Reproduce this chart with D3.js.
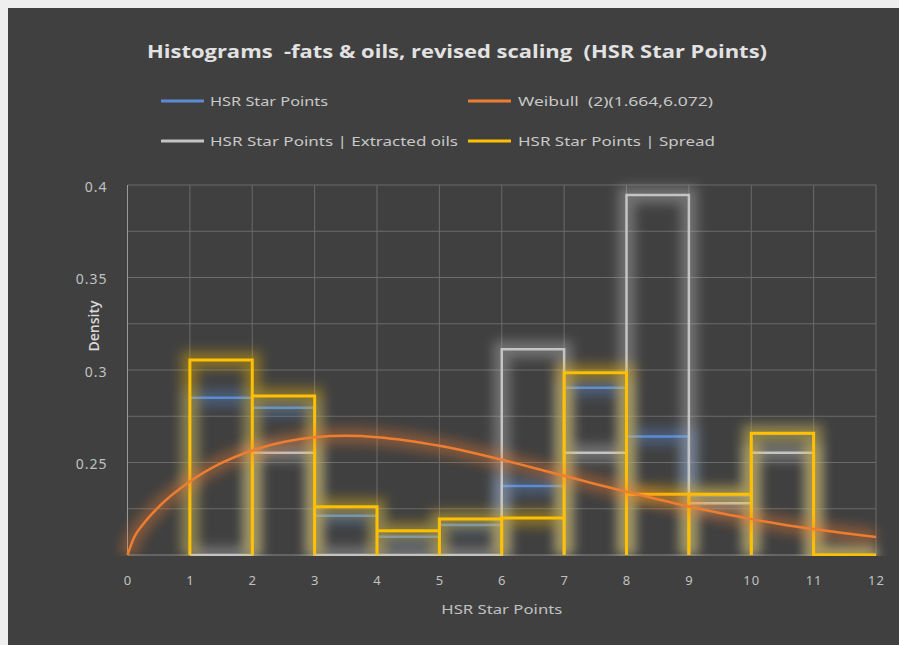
<!DOCTYPE html>
<html>
<head>
<meta charset="utf-8">
<script src="https://cdn.jsdelivr.net/npm/d3@7"></script>
<style>
  html, body { margin: 0; padding: 0; background: #eeeeee; }
  svg { display: block; }
  text { white-space: pre; }
</style>
</head>
<body>
<svg id="chart" width="899" height="645"></svg>
<script>
// Histogram bins: left edges of each one-point-wide bin
const binStarts = [1, 2, 3, 4, 5, 6, 7, 8, 9, 10, 11];

// Density per bin for each series
const allProducts   = [0.2850, 0.2796, 0.2212, 0.2099, 0.2162, 0.2373, 0.2904, 0.2640, 0.2322, 0.2655, 0];
const extractedOils = [0,      0.2553, 0,      0,      0,      0.3112, 0.2553, 0.3946, 0.2280, 0.2553, 0];
const spreads       = [0.3054, 0.2860, 0.2261, 0.2131, 0.2195, 0.2200, 0.2985, 0.2328, 0.2328, 0.2658, 0];

// Fitted Weibull (2) curve, sampled along the x axis
const weibullX = [0, 0.1, 0.25, 0.5, 1, 1.5, 2, 2.5, 3, 3.5, 4, 4.5, 5, 5.5, 6, 6.5, 7, 7.5, 8, 8.5, 9, 9.5, 10, 10.5, 11, 11.5, 12];
const weibullY = [0.2000, 0.2091, 0.2166, 0.2260, 0.2397, 0.2496, 0.2565, 0.2611, 0.2636, 0.2644, 0.2637, 0.2618, 0.2590, 0.2555,
                  0.2515, 0.2472, 0.2428, 0.2384, 0.2342, 0.2301, 0.2262, 0.2227, 0.2194, 0.2165, 0.2140, 0.2117, 0.2097];

// Axis ticks and grid
const xTickValues = [0, 1, 2, 3, 4, 5, 6, 7, 8, 9, 10, 11, 12];
const yTickValues = [0.25, 0.3, 0.35, 0.4];
const yGridValues = [0.2, 0.225, 0.25, 0.275, 0.3, 0.325, 0.35, 0.375, 0.4];

// Text
const titleText = "Histograms  -fats & oils, revised scaling  (HSR Star Points)";
const xAxisTitle = "HSR Star Points";
const yAxisTitle = "Density";
const seriesNames = ["HSR Star Points", "Weibull  (2)(1.664,6.072)", "HSR Star Points | Extracted oils", "HSR Star Points | Spread"];

const svg = d3.select("#chart");
const W = 899, H = 645;
const plot = { left: 127.5, right: 876, top: 185, bottom: 555 };
const font = "'Noto Sans', 'Open Sans', sans-serif";

const colors = {
  all: "#5b8bd3",
  weibull: "#ed7d31",
  oils: "#c4c4c4",
  spread: "#ffc000"
};

// Chart background
svg.append("rect").attr("x", 8).attr("y", 8).attr("width", W - 8).attr("height", H - 8).attr("fill", "#404040");

const defs = svg.append("defs");
defs.append("filter").attr("id", "glow")
  .attr("x", "-30%").attr("y", "-30%").attr("width", "160%").attr("height", "160%")
  .append("feGaussianBlur").attr("stdDeviation", 6);
defs.append("clipPath").attr("id", "plotClip")
  .append("rect").attr("x", plot.left - 16).attr("y", plot.top - 16)
  .attr("width", plot.right - plot.left + 32).attr("height", plot.bottom - plot.top + 17);

const x = d3.scaleLinear().domain([0, 12]).range([plot.left, plot.right]);
const y = d3.scaleLinear().domain([0.2, 0.4]).range([plot.bottom, plot.top]).clamp(true);

// Gridlines
const grid = svg.append("g");
grid.selectAll("line.h").data(yGridValues).join("line")
  .attr("x1", plot.left).attr("x2", plot.right)
  .attr("y1", d => y(d)).attr("y2", d => y(d))
  .attr("stroke", d => d === 0.2 ? "#8a8a8a" : "#6a6a6a").attr("stroke-width", 1);
grid.selectAll("line.v").data(xTickValues).join("line")
  .attr("x1", d => x(d)).attr("x2", d => x(d))
  .attr("y1", plot.top).attr("y2", plot.bottom)
  .attr("stroke", d => d === 0 ? "#9a9a9a" : "#6a6a6a").attr("stroke-width", 1);

// Axes (labels only)
const xAxis = svg.append("g").attr("transform", `translate(0,${plot.bottom})`)
  .call(d3.axisBottom(x).tickValues(xTickValues).tickSize(0).tickFormat(d3.format("d")));
xAxis.select(".domain").remove();
xAxis.selectAll("text").attr("y", 25).attr("dy", "0.35em")
  .attr("fill", "#c0c0c0").style("font-family", font).style("font-size", "13px").style("letter-spacing", "1px");

const yAxis = svg.append("g").attr("transform", `translate(${plot.left},0)`)
  .call(d3.axisLeft(y).tickValues(yTickValues).tickSize(0).tickPadding(20).tickFormat(d3.format("~g")));
yAxis.select(".domain").remove();
yAxis.selectAll("text").attr("dy", "0.45em")
  .attr("fill", "#c0c0c0").style("font-family", font).style("font-size", "14px").style("letter-spacing", "1px");

// Step outline for a histogram series: each bin is drawn as an open box from the baseline
function stepPoints(values) {
  const pts = [];
  values.forEach((v, i) => {
    const x0 = binStarts[i], x1 = binStarts[i] + 1;
    pts.push([x0, 0], [x0, v], [x1, v], [x1, 0]);
  });
  return pts;
}
const stepLine = d3.line().x(d => x(d[0])).y(d => y(d[1]));
const curveLine = d3.line().x((d, i) => x(weibullX[i])).y(d => y(d)).curve(d3.curveMonotoneX);

const marks = svg.append("g").attr("clip-path", "url(#plotClip)");

function drawSeries(d, color, width) {
  marks.append("path").attr("d", d).attr("fill", "none")
    .attr("stroke", color).attr("stroke-width", width + 14).attr("stroke-opacity", 0.38)
    .attr("stroke-linejoin", "miter").attr("filter", "url(#glow)");
  marks.append("path").attr("d", d).attr("fill", "none")
    .attr("stroke", color).attr("stroke-width", width).attr("stroke-linejoin", "miter");
}

drawSeries(stepLine(stepPoints(allProducts)), colors.all, 2.5);
drawSeries(stepLine(stepPoints(extractedOils)), colors.oils, 2.5);
drawSeries(stepLine(stepPoints(spreads)), colors.spread, 3);
drawSeries(curveLine(weibullY), colors.weibull, 2.5);

// Title
svg.append("text").attr("x", 457).attr("y", 52).attr("dy", "0.35em")
  .attr("text-anchor", "middle").attr("fill", "#e2e2e2")
  .style("font-family", "'Open Sans', 'Noto Sans', sans-serif").style("font-size", "18px").style("font-weight", "700")
  .attr("textLength", 620).attr("lengthAdjust", "spacingAndGlyphs")
  .text(titleText);

// Axis titles
svg.append("text").attr("x", (plot.left + plot.right) / 2).attr("y", 609).attr("dy", "0.35em")
  .attr("text-anchor", "middle").attr("fill", "#c0c0c0")
  .style("font-family", font).style("font-size", "13px")
  .attr("textLength", 121).attr("lengthAdjust", "spacingAndGlyphs")
  .text(xAxisTitle);
svg.append("text").attr("transform", "translate(94,326) rotate(-90)").attr("dy", "0.35em")
  .attr("text-anchor", "middle").attr("fill", "#d9d9d9")
  .style("font-family", "'Open Sans', 'Noto Sans', sans-serif").style("font-size", "14px").style("font-weight", "600")
  .text(yAxisTitle);

// Legend
const legendItems = [
  { name: seriesNames[0], color: colors.all,     sx: 161, tx: 210, y: 101, w: 118 },
  { name: seriesNames[1], color: colors.weibull, sx: 468, tx: 518, y: 101, w: 195 },
  { name: seriesNames[2], color: colors.oils,    sx: 161, tx: 210, y: 141, w: 248 },
  { name: seriesNames[3], color: colors.spread,  sx: 468, tx: 518, y: 141, w: 197 }
];
const legend = svg.append("g");
legendItems.forEach(it => {
  legend.append("line").attr("x1", it.sx).attr("x2", it.sx + 43)
    .attr("y1", it.y).attr("y2", it.y).attr("stroke", it.color).attr("stroke-width", 3);
  legend.append("text").attr("x", it.tx).attr("y", it.y).attr("dy", "0.35em")
    .attr("fill", "#c8c8c8").style("font-family", font).style("font-size", "13px")
    .attr("textLength", it.w).attr("lengthAdjust", "spacingAndGlyphs")
    .text(it.name);
});
</script>
</body>
</html>
